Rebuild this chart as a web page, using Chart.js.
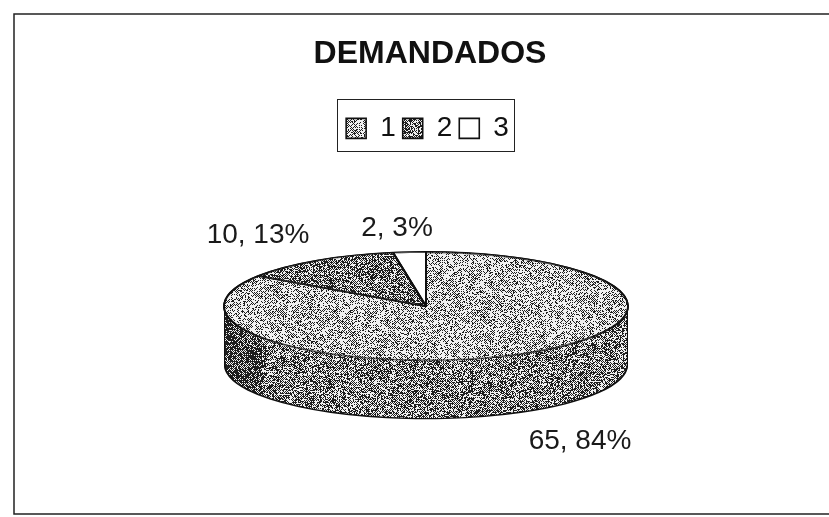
<!DOCTYPE html>
<html>
<head>
<meta charset="utf-8">
<title>DEMANDADOS</title>
<script src="https://cdn.jsdelivr.net/npm/chart.js@4/dist/chart.umd.min.js"></script>
<style>
    html, body { margin: 0; padding: 0; background: #fff; }
    #wrap { position: relative; width: 829px; height: 517px; }
</style>
</head>
<body>
<div id="wrap"><canvas id="chart-demandados" width="829" height="517"></canvas></div>
<script>
// Datos
const categorias = ['1', '2', '3'];
const valores    = [65, 10, 2];
const porcentajes = ['84%', '13%', '3%'];

// Perspectiva del pastel 3D
const ESCALA_Y = 0.268;
const GROSOR   = 58;

// Textura de escaneo (punteado), determinista
function textura(tonoFn) {
    const c = document.createElement('canvas');
    c.width = 829; c.height = 517;
    const g = c.getContext('2d');
    const img = g.createImageData(829, 517);
    let s = 12345;
    for (let y = 0; y < 517; y++) {
        for (let x = 0; x < 829; x++) {
            s = (s * 1103515245 + 12345) & 0x7fffffff;
            const r = (s >> 8) % 256;
            const checker = ((x + y) % 2) ? 60 : -60;
            const v = (r + checker) > tonoFn(x, y) ? 240 : 30;
            const i = (y * 829 + x) * 4;
            img.data[i] = img.data[i + 1] = img.data[i + 2] = v;
            img.data[i + 3] = 255;
        }
    }
    g.putImageData(img, 0, 0);
    return g.createPattern(c, 'no-repeat');
}

const patron1 = textura(() => 80);
const patron2 = textura(() => 145);
const patronLado = textura((x) => x < 262 ? 190 : 135);
const patrones = [patron1, patron2, patronLado];

let ctxActual = null;
function alinear() {
    const m = ctxActual.getTransform().inverse();
    patrones.forEach(p => p.setTransform(m));
}

function copiaArco(arc, extra, radio) {
    const a = Object.create(arc);
    a.options = Object.assign({}, arc.options, extra);
    if (radio !== undefined) a.outerRadius = radio;
    return a;
}

const pastel3d = {
    id: 'pastel3d',
    afterLayout(chart) {
        // el titulo esta algo a la derecha de la leyenda
        chart.titleBlock.left += 4;
        chart.titleBlock.right += 4;
        chart.legend.left += 1.5;
        chart.legend.right += 1.5;
    },
    beforeDraw(chart) {
        ctxActual = chart.ctx;
        patrones.forEach(p => p.setTransform(new DOMMatrix()));
    },
    beforeDatasetDraw(chart, args) {
        const ctx = chart.ctx;
        const arcs = args.meta.data;
        const cx = arcs[0].x, cy = arcs[0].y;
        const capa = (d, fn) => {
            ctx.save();
            ctx.translate(cx, cy + d);
            ctx.scale(1, ESCALA_Y);
            ctx.translate(-cx, -cy);
            fn();
            ctx.restore();
        };
        // silueta negra del lateral
        for (let d = GROSOR + 1; d >= -1; d--) {
            capa(d, () => arcs.forEach(a => copiaArco(a, { backgroundColor: '#111', borderWidth: 0 }).draw(ctx)));
        }
        // relleno del lateral
        for (let d = GROSOR; d >= 1; d--) {
            capa(d, () => {
                alinear();
                arcs.forEach(a => copiaArco(a, { backgroundColor: patronLado, borderWidth: 0 }, a.outerRadius - 1.5).draw(ctx));
            });
        }
        // cara superior: la dibuja el propio controlador
        ctx.save();
        ctx.translate(cx, cy);
        ctx.scale(1, ESCALA_Y);
        ctx.translate(-cx, -cy);
        alinear();
    },
    afterDatasetDraw(chart, args) {
        const ctx = chart.ctx;
        // engrosar las lineas casi horizontales
        args.meta.data.forEach(a => {
            [-0.6, 0.6].forEach(dy => {
                ctx.save();
                ctx.translate(0, dy / ESCALA_Y);
                copiaArco(a, { backgroundColor: 'rgba(0,0,0,0)' }).draw(ctx);
                ctx.restore();
            });
        });
        ctx.restore();
    },
    afterDraw(chart) {
        const ctx = chart.ctx;
        ctx.save();
        // marco exterior (sin lado derecho, cortado en el escaneo)
        ctx.strokeStyle = '#222';
        ctx.lineWidth = 1.5;
        ctx.beginPath();
        ctx.moveTo(829, 14);
        ctx.lineTo(14, 14);
        ctx.lineTo(14, 514);
        ctx.lineTo(829, 514);
        ctx.stroke();
        // recuadro de la leyenda
        ctx.lineWidth = 1;
        ctx.strokeRect(337.5, 99.5, 177, 52);
        // etiquetas de datos
        ctx.fillStyle = '#1a1a1a';
        ctx.font = '28px "Liberation Sans"';
        ctx.textAlign = 'center';
        ctx.textBaseline = 'middle';
        const lugares = [[580, 441], [258, 235], [397, 228]];
        valores.forEach((v, i) => {
            ctx.fillText(v + ', ' + porcentajes[i], lugares[i][0], lugares[i][1]);
        });
        ctx.restore();
    }
};

new Chart(document.getElementById('chart-demandados'), {
    type: 'pie',
    data: {
        labels: categorias,
        datasets: [{
            data: valores,
            backgroundColor: [patron1, patron2, '#ffffff'],
            borderColor: '#111',
            borderWidth: 1.6,
            clip: false
        }]
    },
    options: {
        responsive: false,
        animation: false,
        radius: 202,
        layout: { padding: { left: 23, right: 0, top: 0, bottom: 57 } },
        plugins: {
            tooltip: { enabled: false },
            title: {
                display: true,
                text: 'DEMANDADOS',
                color: '#111',
                font: { family: '"Liberation Sans"', size: 32, weight: 'bold' },
                padding: { top: 35, bottom: 34 }
            },
            legend: {
                position: 'top',
                labels: {
                    boxWidth: 20,
                    boxHeight: 20,
                    padding: 7,
                    color: '#111',
                    font: { family: '"Liberation Sans"', size: 28 }
                }
            }
        }
    },
    plugins: [pastel3d]
});
</script>
</body>
</html>
